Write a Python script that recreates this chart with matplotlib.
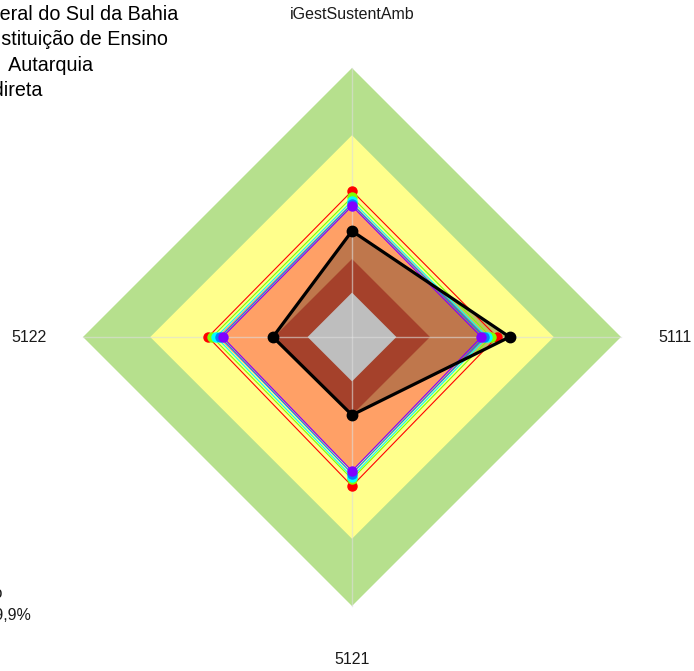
import numpy as np
import matplotlib.pyplot as plt

plt.rcParams['font.family'] = ['Liberation Sans', 'DejaVu Sans']

# radar axes, clockwise from the top
eixos = ['iGestSustentAmb', '5111', '5121', '5122']

# reference bands (outer radius of each ring)
faixas_raio = [1.0, 0.75, 0.5, 0.29, 0.165]
faixas_cor = ['#B6E08D', '#FFFF8C', '#FFA066', '#A5412B', '#BEBEBE']

# comparison series
series_nomes = ['s1', 's2', 's3', 's4', 's5']
series_cor = ['#FF0000', '#80FF00', '#00FFFF', '#0080FF', '#8000FF']
series_val = [
    [0.543, 0.539, 0.554, 0.535],
    [0.520, 0.517, 0.528, 0.520],
    [0.506, 0.502, 0.520, 0.505],
    [0.495, 0.492, 0.508, 0.490],
    [0.487, 0.481, 0.498, 0.481],
]

# the institution itself
inst_val = [0.394, 0.586, 0.290, 0.294]

ang = np.arange(len(eixos)) * 2 * np.pi / len(eixos)


def xy(vals):
    v = np.asarray(vals, dtype=float)
    return v * np.sin(ang), v * np.cos(ang)


def fechar(x, y):
    return np.append(x, x[0]), np.append(y, y[0])


fig = plt.figure(figsize=(6.94, 6.71), dpi=100)
ax = fig.add_axes([0, 0, 1, 1])
ax.set_xlim(-352 / 269, 342 / 269)
ax.set_ylim(-334 / 269, 337 / 269)
ax.axis('off')

# outer bands first, inner ones drawn later
for i, (r, c) in enumerate(zip(faixas_raio, faixas_cor)):
    x, y = xy([r] * len(eixos))
    z = 1 if i < 3 else 3
    ax.fill(x, y, color=c, lw=0, zorder=z)

# shaded area of the institution sits between orange and dark red rings
x, y = xy(inst_val)
ax.fill(x, y, color='black', alpha=0.25, lw=0, zorder=2)

# spokes
for a in ang:
    ax.plot([0, np.sin(a)], [0, np.cos(a)], color='#DDDDDD', lw=1, alpha=0.6, zorder=4)

for nome, cor, vals in zip(series_nomes, series_cor, series_val):
    x, y = xy(vals)
    xf, yf = fechar(x, y)
    ax.plot(xf, yf, color=cor, lw=0.8, zorder=5)
    ax.plot(x, y, 'o', color=cor, ms=6.5, zorder=6)

x, y = xy(inst_val)
xf, yf = fechar(x, y)
ax.plot(xf, yf, color='black', lw=2.3, zorder=7)
ax.plot(x, y, 'o', color='black', ms=7.5, zorder=8)

# axis labels
for nome, a in zip(eixos, ang):
    ax.text(1.2 * np.sin(a), 1.2 * np.cos(a), nome, ha='center', va='center',
            fontsize=11.5, color='#1A1A1A', zorder=9)

# header block, top left
cabecalho = [
    ('Universidade Federal do Sul da Bahia', 178, 20),
    ('Tipo: Instituição de Ensino', 168, 45),
    ('Natureza jurídica:  Autarquia', 93, 71),
    ('Administração Indireta', 42, 96),
]
W, H = 694, 671
for txt, xe, yb in cabecalho:
    fig.text(xe / W, 1 - yb / H, txt, ha='right', va='baseline', fontsize=14.2, color='black')

rodape = [
    ('Índice médio do grupo', 2.5, 598),
    ('Atingimento: 59,9%', 31, 620),
]
for txt, xe, yb in rodape:
    fig.text(xe / W, 1 - yb / H, txt, ha='right', va='baseline', fontsize=11.5, color='#1A1A1A')

fig.savefig('out.png', dpi=100)
